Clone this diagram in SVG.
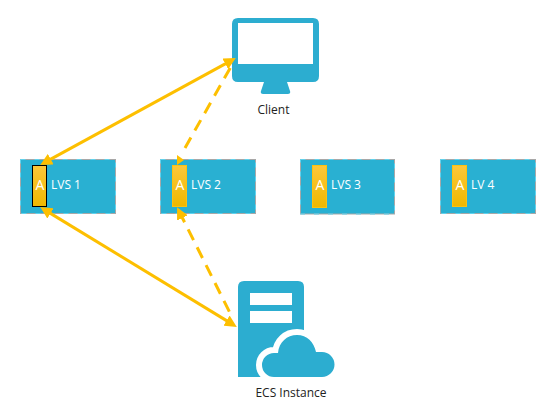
<svg xmlns="http://www.w3.org/2000/svg" width="543" height="412" viewBox="0 0 543 412">
<style>
.box{fill:#29b0d2;stroke:#a8a8a8;stroke-width:1}
.dash{fill:none;stroke:#5fd3ee;stroke-width:1;stroke-dasharray:5 9}
.tab{fill:url(#g);stroke:#fcc210;stroke-width:1}
.a{font:14px "Open Sans","Noto Sans",sans-serif;fill:#fff;text-anchor:middle}
.l{font:12px "Open Sans","Noto Sans",sans-serif;fill:#fff}
.c{font:12px "Open Sans","Noto Sans",sans-serif;fill:#222;text-anchor:middle}
.ic{fill:#2cadd0}
.s{fill:none;stroke:#fdbf00;stroke-width:3}
.d{stroke-dasharray:12 8}
</style>
<defs>
<linearGradient id="g" x1="0" y1="0" x2="0" y2="1"><stop offset="0" stop-color="#fdc73a"/><stop offset="1" stop-color="#efb800"/></linearGradient>
<marker id="m" viewBox="0 0 10 10" refX="6" refY="5" markerWidth="4" markerHeight="4" orient="auto-start-reverse"><path d="M0 0L10 5L0 10z" fill="#fdbf00"/></marker>
</defs>
<g id="client">
<path class="ic" fill-rule="evenodd" d="M238 18H313Q319 18 319 24V76Q319 82 313 82H287L290 91Q291 94 288 94H263Q260 94 261 91L264 82H238Q232 82 232 76V24Q232 18 238 18ZM238 23V64H313V23Z"/>
<text class="c" x="273.5" y="114">Client</text>
</g>
<g id="ecs">
<path class="ic" d="M244 281H298Q304 281 304 287V377H238V287Q238 281 244 281Z"/>
<rect x="250" y="293" width="42" height="12" fill="#fff"/>
<rect x="250" y="311" width="42" height="12" fill="#fff"/>
<path d="M274 377A12 12 0 0 1 274 353H278C279 342 287 335 297 335C307 335 314 342 316 352H322A12.5 12.5 0 0 1 322 377Z" fill="#fff" stroke="#fff" stroke-width="12" stroke-linejoin="round"/>
<rect x="238" y="377" width="110" height="8" fill="#fff"/>
<path class="ic" d="M274 377A12 12 0 0 1 274 353H278C279 342 287 335 297 335C307 335 314 342 316 352H322A12.5 12.5 0 0 1 322 377Z"/>
<text class="c" x="291" y="397">ECS Instance</text>
</g>
<g id="lvs1">
<rect class="box" x="20.5" y="159.5" width="95" height="54"/>
<rect class="dash" x="20.5" y="159.5" width="95" height="54"/>
<rect x="32.5" y="165.5" width="14" height="41" fill="url(#g)" stroke="#000"/>
<text class="a" x="40" y="190">A</text>
<text class="l" x="51" y="189">LVS 1</text>
</g>
<g id="lvs2">
<rect class="box" x="160.5" y="159.5" width="95" height="54"/>
<rect class="dash" x="160.5" y="159.5" width="95" height="54"/>
<rect class="tab" x="172.5" y="165.5" width="14" height="41"/>
<text class="a" x="180" y="190">A</text>
<text class="l" x="191" y="189">LVS 2</text>
</g>
<g id="lvs3">
<rect class="box" x="300.5" y="159.5" width="94" height="54.5"/>
<rect class="dash" x="300.5" y="159.5" width="94" height="54.5"/>
<rect class="tab" x="312.5" y="165.5" width="14" height="42"/>
<text class="a" x="320" y="190">A</text>
<text class="l" x="331" y="189">LVS 3</text>
</g>
<g id="lvs4">
<rect class="box" x="440.5" y="159.5" width="95" height="54"/>
<rect class="dash" x="440.5" y="159.5" width="95" height="54"/>
<rect class="tab" x="452.5" y="165.5" width="14" height="41"/>
<text class="a" x="460" y="190">A</text>
<text class="l" x="471" y="189">LV 4</text>
</g>
<g id="connectors">
<path class="s" d="M44.4 162.6L231.6 60.4" marker-start="url(#m)" marker-end="url(#m)"/>
<path class="s d" d="M185 148L233 63"/>
<polygon points="177,155 184,160 177,165" fill="#fdbf00"/>
<path class="s" d="M44.3 209.6L232.7 324.4" marker-start="url(#m)" marker-end="url(#m)"/>
<path class="s d" d="M179.2 211.5L232.5 318" marker-start="url(#m)"/>
</g>
</svg>
